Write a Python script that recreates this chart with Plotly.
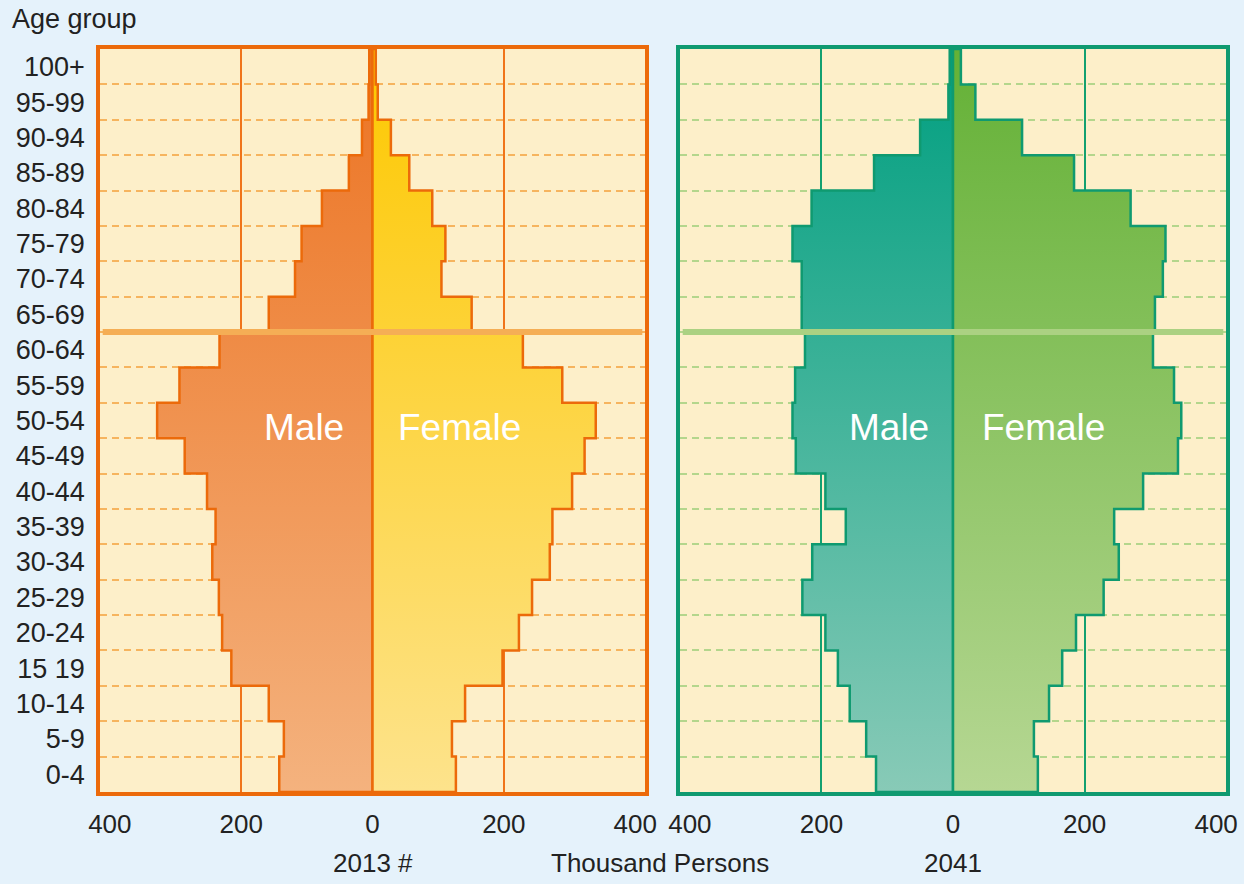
import plotly.graph_objects as go

# ---------------- data (thousand persons) ----------------
age_groups = ["0-4", "5-9", "10-14", "15 19", "20-24", "25-29", "30-34", "35-39",
              "40-44", "45-49", "50-54", "55-59", "60-64", "65-69", "70-74", "75-79",
              "80-84", "85-89", "90-94", "95-99", "100+"]
male_2013 = [142, 135, 158, 215, 229, 234, 244, 239, 252, 286, 328, 294, 233,
             158, 118, 108, 77, 36, 16, 6, 5]
female_2013 = [127, 121, 141, 198, 223, 243, 270, 274, 304, 323, 340, 289, 229,
               151, 105, 111, 91, 56, 28, 8, 5]
male_2041 = [117, 132, 157, 175, 194, 229, 214, 163, 194, 239, 244, 240, 225,
             230, 230, 244, 215, 120, 50, 7, 5]
female_2041 = [129, 123, 146, 166, 187, 229, 252, 245, 289, 342, 347, 336, 304,
               307, 319, 323, 270, 184, 105, 34, 12]
x_ticks = [-400, -200, 0, 200, 400]
x_ticktext = ["400", "200", "0", "200", "400"]
x_grid = [-200, 200]
x_range = [-415, 415]

FONT = "Liberation Sans, Arial, Helvetica, sans-serif"
W, H = 1244, 884


def step_outline(vals, sign):
    """Closed stepped outline of a pyramid half (one step per age group)."""
    xs, ys = [0], [-0.5]
    for i, v in enumerate(vals):
        xs += [sign * v, sign * v]
        ys += [i - 0.5, i + 0.5]
    xs += [0, 0]
    ys += [len(vals) - 0.5, -0.5]
    return xs, ys


fig = go.Figure()

panels = [
    dict(male=male_2013, female=female_2013, xa="x", ya="y",
         male_cols=("#f4b27e", "#ec7322"), female_cols=("#fde38c", "#fdc800"),
         edge="#ec6a0a"),
    dict(male=male_2041, female=female_2041, xa="x2", ya="y2",
         male_cols=("#88cab7", "#009f80"), female_cols=("#b6d793", "#64b136"),
         edge="#0f9a70"),
]

for p in panels:
    for vals, sign, cols in ((p["male"], -1, p["male_cols"]),
                             (p["female"], 1, p["female_cols"])):
        xs, ys = step_outline(vals, sign)
        fig.add_trace(go.Scatter(
            x=xs, y=ys, xaxis=p["xa"], yaxis=p["ya"], mode="lines",
            fill="toself", fillcolor=cols[1],
            fillgradient=dict(type="vertical",
                              colorscale=[[0, cols[0]], [1, cols[1]]]),
            line=dict(color=p["edge"], width=2.5),
            hoverinfo="skip", showlegend=False))

left_dom = [100 / W, 645 / W]
right_dom = [680 / W, 1226 / W]
y_dom = [1 - 792 / H, 1 - 49 / H]

minor_vals = [i + 0.5 for i in range(len(age_groups) - 1)]


def xaxis_cfg(domain, edge, grid):
    return dict(domain=domain, range=x_range, tickmode="array",
                tickvals=x_ticks, ticktext=x_ticktext, showgrid=False,
                minor=dict(tickmode="array", tickvals=x_grid, showgrid=True,
                           gridcolor=grid, gridwidth=1.6, ticks=""),
                zeroline=False,
                showline=True, mirror=True, linecolor=edge, linewidth=3.5,
                ticks="", ticklabelstandoff=6, automargin=False,
                tickfont=dict(family=FONT, size=26, color="#222222"),
                fixedrange=True)


def yaxis_cfg(anchor, edge, dash_col, labels):
    return dict(domain=y_dom, anchor=anchor, range=[-0.5, len(age_groups) - 0.5],
                tickmode="array", tickvals=list(range(len(age_groups))),
                ticktext=age_groups, showticklabels=labels, showgrid=False,
                zeroline=False, showline=True, mirror=True, linecolor=edge,
                linewidth=3.5, ticks="", ticklabelstandoff=6, automargin=False,
                tickfont=dict(family=FONT, size=27, color="#222222"),
                minor=dict(tickmode="array", tickvals=minor_vals, showgrid=True,
                           gridcolor=dash_col, gridwidth=1.5, griddash="7px,5px",
                           ticks=""),
                fixedrange=True)


fig.update_layout(
    width=W, height=H,
    margin=dict(l=0, r=0, t=0, b=0),
    paper_bgcolor="#e5f2fb",
    plot_bgcolor="#fdefc9",
    xaxis=xaxis_cfg(left_dom, "#ec6a0a", "#f0741a"),
    xaxis2=xaxis_cfg(right_dom, "#0f9a70", "#13a070"),
    yaxis=yaxis_cfg("x", "#ec6a0a", "#f6b45e", True),
    yaxis2=yaxis_cfg("x2", "#0f9a70", "#b4d68c", False),
    font=dict(family=FONT, color="#222222"),
)

# separator line between the 60-64 and 65-69 age groups
sep_y = age_groups.index("60-64") + 0.5
for xref, yref, col in (("x domain", "y", "#f5ae55"), ("x2 domain", "y2", "#abd182")):
    fig.add_shape(type="line", xref=xref, yref=yref, x0=0.005, x1=0.995,
                  y0=sep_y, y1=sep_y, line=dict(color=col, width=6),
                  layer="above")

label_y = age_groups.index("50-54") - 0.2
for xa, ya, mx, fx in (("x", "y", -104, 132), ("x2", "y2", -98, 137)):
    fig.add_annotation(x=mx, y=label_y, xref=xa, yref=ya, text="Male",
                       showarrow=False, font=dict(family=FONT, size=37, color="white"))
    fig.add_annotation(x=fx, y=label_y, xref=xa, yref=ya, text="Female",
                       showarrow=False, font=dict(family=FONT, size=37, color="white"))

fig.add_annotation(x=10 / W, y=1 - 19 / H, xref="paper", yref="paper",
                   xanchor="left", yanchor="middle", text="Age group",
                   showarrow=False, font=dict(family=FONT, size=27, color="#222222"))

for txt, px in (("2013 #", 373), ("Thousand Persons", 660), ("2041", 953)):
    fig.add_annotation(x=px / W, y=1 - 863 / H, xref="paper", yref="paper",
                       xanchor="center", yanchor="middle", text=txt,
                       showarrow=False, font=dict(family=FONT, size=26, color="#222222"))

fig.write_html(
    "out.html",
    config={"displayModeBar": False},
    post_script="document.body.style.margin='0';"
                "document.body.style.background='#e5f2fb';",
)
